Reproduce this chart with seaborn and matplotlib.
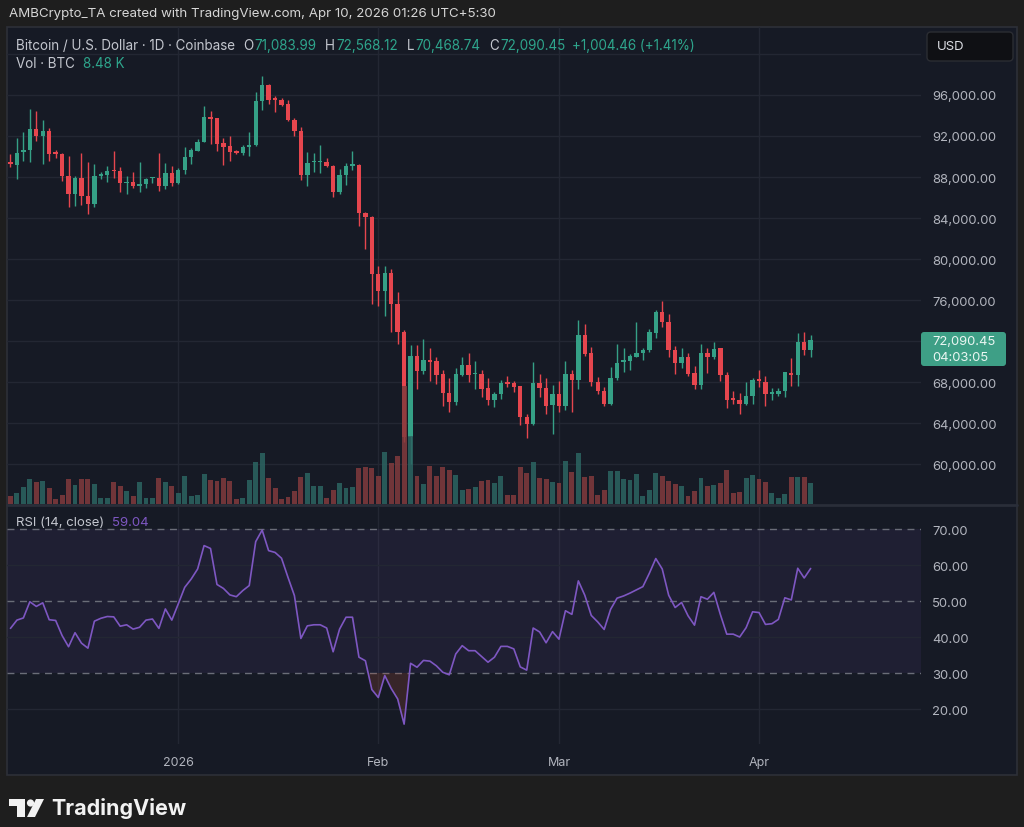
import matplotlib
matplotlib.use("Agg")
import matplotlib.pyplot as plt
import matplotlib.dates as mdates
from matplotlib.patches import Rectangle, FancyBboxPatch, Polygon, Circle
from matplotlib.ticker import FuncFormatter
import seaborn as sns
import pandas as pd
import numpy as np

# ---- data ----
start_date = "2025-12-06"

opens = [89430, 89170, 90410, 90660, 92680, 92030, 92520, 90410, 90240, 88130,
         86340, 87870, 86180, 85370, 88070, 88230, 88710, 88560, 87420, 87540,
         87150, 87290, 87870, 87870, 87090, 88390, 87420, 88710, 89920, 90570,
         91440, 93830, 93730, 91290, 91000, 90570, 90340, 90900, 91120, 95440,
         96980, 95680, 95540, 95120, 93590, 92520, 88200, 89490, 89490, 89430,
         89040, 86510, 88200, 89100, 89170, 84490, 84070, 78540, 76850, 78630,
         75610, 72910, 62610, 70510, 69100, 70180, 70080, 68780, 66930, 66080,
         68680, 69660, 68780, 68780, 67390, 66270, 66830, 67970, 67870, 67580,
         64560, 63900, 67900, 67440, 65760, 66830, 65630, 68780, 68230, 72590,
         70830, 68030, 67150, 65850, 68360, 69920, 70080, 70440, 70830, 71150,
         72780, 74800, 73880, 71150, 69850, 70410, 68880, 67710, 70830, 70410,
         71290, 68680, 66410, 66270, 65850, 66660, 68290, 68030, 66830, 66830,
         67150, 68880, 68680, 71870, 71083.99]
highs = [90240, 91780, 92360, 94630, 94470, 93590, 92750, 90660, 90340, 90020,
         88130, 90340, 89430, 89270, 88520, 89040, 90570, 88950, 88070, 88460,
         89490, 87930, 87970, 90340, 89370, 89040, 88850, 90900, 90800, 91710,
         94900, 94470, 93800, 91780, 91970, 90660, 91120, 92420, 96260, 97850,
         97070, 95870, 95680, 95540, 93730, 92850, 90470, 90340, 91120, 89830,
         89170, 88780, 89370, 90570, 89240, 84620, 84170, 79290, 79290, 79030,
         76810, 73100, 71610, 71610, 72200, 71320, 70410, 69200, 68360, 69340,
         70410, 70830, 70080, 69200, 68360, 67050, 68230, 68560, 68130, 67650,
         64880, 69980, 68780, 68360, 67660, 68130, 70080, 69200, 74080, 73660,
         71390, 68460, 67480, 69430, 71710, 71290, 70730, 73880, 71290, 73170,
         75050, 75930, 74640, 71480, 71290, 70830, 69530, 71710, 71290, 71930,
         71350, 69000, 67150, 66930, 67970, 68360, 69200, 68560, 67390, 67390,
         69000, 70310, 72780, 72850, 72568.12]
lows = [88950, 87800, 89590, 89490, 91540, 89270, 89590, 89830, 87640, 85100,
        85200, 85270, 84390, 85040, 87800, 87480, 87870, 86510, 86340, 86900,
        86570, 86960, 87420, 86660, 86830, 87150, 87320, 88290, 89270, 90540,
        91390, 91220, 90570, 89170, 89590, 90240, 90150, 90020, 91000, 94570,
        95120, 94310, 94960, 93500, 91970, 87740, 87150, 88460, 88390, 88950,
        86020, 86340, 87220, 88710, 83250, 80980, 75610, 75440, 74470, 72880,
        71710, 62120, 60000, 67320, 68780, 68130, 67810, 65630, 65070, 65760,
        68560, 67970, 67320, 66510, 65760, 65530, 66340, 67480, 67050, 63810,
        62510, 63810, 66510, 64880, 62930, 65040, 65300, 65050, 67320, 70510,
        67640, 66830, 65630, 65760, 68230, 69000, 69200, 70440, 70180, 70900,
        72260, 73340, 70410, 68780, 69340, 68560, 67320, 67320, 68880, 70240,
        68130, 65440, 65850, 64880, 65760, 65850, 67480, 65630, 66270, 66660,
        66510, 67590, 67640, 70630, 70468.74]
closes = [89240, 90340, 90660, 92680, 92030, 92520, 90240, 90240, 88130, 86340,
          87870, 86180, 85370, 88070, 88290, 88620, 88620, 87420, 87540, 87090,
          87290, 87800, 87930, 87090, 88390, 87420, 88710, 89920, 90660, 91440,
          93830, 93660, 91220, 90960, 90470, 90340, 90900, 91120, 95440, 96980,
          95540, 95540, 95050, 93590, 92520, 88200, 89370, 89590, 89590, 89040,
          86510, 88200, 89100, 89240, 84490, 84070, 78540, 76850, 78630, 75610,
          72910, 62610, 70510, 69100, 70180, 69980, 68680, 66930, 66080, 68780,
          69660, 68680, 68900, 67320, 66270, 66830, 67900, 67810, 67480, 64560,
          63900, 67900, 67390, 65690, 66830, 65630, 68780, 68230, 72590, 70730,
          67970, 67150, 65850, 68360, 69850, 70180, 70510, 70830, 71150, 72850,
          74800, 73880, 71150, 69850, 70410, 68780, 67710, 70830, 70410, 71220,
          68680, 66270, 66270, 65850, 66660, 68230, 68130, 66830, 67000, 67150,
          68950, 68680, 71870, 71085.99, 72090.45]
volume_k = [3.3, 4.3, 6.7, 10.0, 8.9, 9.2, 6.3, 2.0, 3.7, 9.9,
            7.7, 9.9, 9.9, 8.0, 2.3, 2.5, 8.9, 7.1, 5.1, 3.1,
            8.7, 2.3, 2.3, 10.3, 8.7, 7.3, 4.3, 11.1, 3.1, 3.6,
            12.0, 9.6, 9.2, 10.3, 9.2, 2.0, 2.5, 9.6, 16.9, 20.3,
            10.5, 6.4, 2.0, 2.9, 5.2, 10.9, 12.4, 7.2, 7.3, 2.3,
            5.6, 8.3, 6.5, 6.7, 14.5, 14.8, 14.5, 11.3, 20.7, 16.3,
            19.3, 47.0, 27.0, 11.1, 8.0, 15.3, 11.3, 14.7, 13.7, 11.7,
            5.7, 6.0, 6.7, 9.1, 9.6, 8.4, 11.1, 3.6, 3.6, 14.7,
            12.4, 16.9, 10.5, 10.0, 8.9, 8.5, 17.3, 12.7, 20.5, 10.7,
            11.1, 3.6, 5.6, 13.1, 13.1, 9.9, 9.7, 12.0, 3.2, 5.7,
            12.5, 11.2, 9.2, 7.9, 7.3, 3.1, 5.2, 10.3, 7.2, 7.6,
            8.3, 13.5, 4.3, 4.7, 10.5, 11.6, 9.9, 8.7, 4.4, 2.5,
            3.9, 10.9, 10.9, 10.9, 8.48]
rsi = [42.4, 44.7, 45.3, 49.8, 48.5, 49.5, 44.8, 44.6, 40.4, 37.3,
       41.2, 38.3, 36.9, 44.4, 45.2, 45.7, 45.6, 43.0, 43.4, 42.2,
       42.7, 44.7, 45.0, 42.4, 47.8, 44.7, 49.2, 53.8, 56.1, 58.9,
       65.4, 64.6, 54.6, 53.5, 51.7, 51.2, 52.9, 54.3, 66.5, 69.7,
       64.0, 63.5, 61.9, 56.6, 51.5, 39.6, 43.1, 43.4, 43.4, 42.5,
       35.9, 42.2, 45.5, 45.5, 34.4, 33.4, 25.4, 23.2, 29.3, 25.7,
       22.8, 15.8, 32.7, 31.6, 33.5, 33.3, 32.0, 30.2, 29.5, 35.3,
       37.6, 36.2, 36.2, 34.6, 33.0, 34.4, 37.4, 37.4, 36.7, 31.7,
       30.8, 42.5, 41.4, 38.4, 41.5, 39.4, 47.3, 46.3, 55.6, 51.6,
       46.0, 44.2, 42.1, 47.7, 50.8, 51.4, 52.2, 53.1, 54.0, 57.7,
       61.8, 58.9, 51.6, 48.2, 49.6, 45.9, 43.3, 51.2, 50.5, 52.4,
       46.3, 40.8, 40.8, 40.0, 42.6, 47.0, 46.8, 43.5, 43.7, 44.9,
       50.9, 50.3, 59.1, 56.4, 59.04]

price_ticks = [60000, 64000, 68000, 72000, 76000, 80000, 84000, 88000, 92000, 96000]
price_grid = price_ticks + [100000]
rsi_ticks = [20, 30, 40, 50, 60, 70]
month_starts = ["2026-01-01", "2026-02-01", "2026-03-01", "2026-04-01"]
month_labels = ["2026", "Feb", "Mar", "Apr"]

# ---- style ----
W, H = 1024, 828
BG_OUTER = "#1e1e1e"
BG_PANE = "#161a25"
GRID = "#232733"
GREY = "#b2b5be"
UP = "#35a086"
DOWN = "#e6464e"
VOL_UP = "#2c6562"
VOL_DOWN = "#823b3d"
GREEN_TXT = "#2ea58c"
PURPLE = "#7e57c2"

df = pd.DataFrame({
    "date": pd.date_range(start_date, periods=len(closes), freq="D"),
    "open": opens, "high": highs, "low": lows, "close": closes,
    "volume": volume_k, "rsi": rsi,
})

sns.set_theme(style="dark", rc={"axes.facecolor": BG_PANE, "figure.facecolor": BG_OUTER})
plt.rcParams["font.family"] = ["Inter", "DejaVu Sans"]

fig = plt.figure(figsize=(W / 100, H / 100), dpi=100, facecolor=BG_OUTER)


def frac(x0, y0, x1, y1):
    return [x0 / W, 1 - y1 / H, (x1 - x0) / W, (y1 - y0) / H]


# pane background
bg = fig.add_axes([0, 0, 1, 1], zorder=0)
bg.set_xlim(0, W)
bg.set_ylim(H, 0)
bg.axis("off")
bg.add_patch(Rectangle((7, 28), 1010, 748, fc=BG_PANE, ec="#2d3038", lw=1.2))
bg.plot([7, 1017], [506, 506], color="#2a2e39", lw=2)

ax = fig.add_axes(frac(7, 28, 921, 505), zorder=2)
ax_rsi = fig.add_axes(frac(7, 507, 921, 745), zorder=2, sharex=ax)
for a in (ax, ax_rsi):
    a.patch.set_visible(False)
    a.grid(False)
    for s in a.spines.values():
        s.set_visible(False)

# candles
is_up = df["close"] >= df["open"]
colors = np.where(is_up, UP, DOWN)
ax.vlines(df["date"], df["low"], df["high"], colors=colors, lw=1, zorder=3)
body = (df["close"] - df["open"]).abs().clip(lower=110)
ax.bar(df["date"], body, bottom=df[["open", "close"]].min(axis=1),
       width=0.68, color=colors, zorder=4, linewidth=0)

# volume overlay
ax_vol = ax.twinx()
ax_vol.bar(df["date"], df["volume"], width=0.76, color=np.where(is_up, VOL_UP, VOL_DOWN),
           alpha=0.85, linewidth=0, zorder=2)
ax_vol.set_ylim(0, 190)
ax_vol.axis("off")

x0 = mdates.date2num(df["date"].iloc[0])
ax.set_xlim(x0 - 0.54, x0 + 141.1)
ax.set_ylim(56098, 102634)
for p in price_grid:
    ax.axhline(p, color=GRID, lw=1, zorder=0)
for m in pd.to_datetime(month_starts):
    ax.axvline(m, color=GRID, lw=1, zorder=0)
    ax_rsi.axvline(m, color=GRID, lw=1, zorder=0)

ax.yaxis.tick_right()
ax.set_yticks(price_ticks)
ax.yaxis.set_major_formatter(FuncFormatter(lambda v, _: "" if v == 72000 else f"{v:,.2f}"))
ax.tick_params(axis="y", length=0, pad=8, labelcolor=GREY, labelsize=9.4)
ax.tick_params(axis="x", length=0, labelbottom=False)

# RSI pane
ax_rsi.axhspan(30, 70, color=PURPLE, alpha=0.09, lw=0, zorder=0)
for lvl in (20, 40, 60):
    ax_rsi.axhline(lvl, color=GRID, lw=1, zorder=1)
for lvl in (30, 50, 70):
    ax_rsi.axhline(lvl, color="#6a6d78", lw=1, ls=(0, (5, 4)), zorder=1)
ax_rsi.fill_between(df["date"], df["rsi"], 30, where=df["rsi"] < 30, interpolate=True,
                    color="#b0503a", alpha=0.22, lw=0, zorder=2)
sns.lineplot(x=df["date"], y=df["rsi"], ax=ax_rsi, color=PURPLE, lw=1.2, zorder=3)
ax_rsi.set_ylim(10.28, 76.4)
ax_rsi.set_xlabel("")
ax_rsi.set_ylabel("")
ax_rsi.yaxis.tick_right()
ax_rsi.set_yticks(rsi_ticks)
ax_rsi.set_yticklabels([f"{t:.2f}" for t in rsi_ticks])
ax_rsi.tick_params(axis="y", length=0, pad=8, labelcolor=GREY, labelsize=9.4)
ax_rsi.set_xticks(pd.to_datetime(month_starts))
ax_rsi.set_xticklabels(month_labels)
ax_rsi.tick_params(axis="x", length=0, pad=9, labelcolor=GREY, labelsize=9)
ax_rsi.set_xlim(x0 - 0.54, x0 + 141.1)

# ---- overlay texts and boxes ----
ov = fig.add_axes([0, 0, 1, 1], zorder=10)
ov.set_xlim(0, W)
ov.set_ylim(H, 0)
ov.axis("off")
renderer = fig.canvas.get_renderer()


def chain(x, y, parts, size):
    for txt, col, gap in parts:
        t = ov.text(x, y, txt, color=col, fontsize=size, va="center", ha="left")
        x += t.get_window_extent(renderer).width + gap
    return x


ov.text(9, 14, "AMBCrypto_TA created with TradingView.com, Apr 10, 2026 01:26 UTC+5:30",
        color="#d6d6d6", fontsize=9.6, va="center", ha="left")

change = closes[-1] - closes[-2]
pct = change / closes[-2] * 100
chain(16, 46, [
    ("Bitcoin / U.S. Dollar · 1D · Coinbase", "#c3c6ce", 8),
    ("O", "#c3c6ce", 1), (f"{opens[-1]:,.2f}", GREEN_TXT, 9),
    ("H", "#c3c6ce", 1), (f"{highs[-1]:,.2f}", GREEN_TXT, 9),
    ("L", "#c3c6ce", 1), (f"{lows[-1]:,.2f}", GREEN_TXT, 9),
    ("C", "#c3c6ce", 1), (f"{closes[-1]:,.2f}", GREEN_TXT, 7),
    (f"{change:+,.2f} ({pct:+.2f}%)", GREEN_TXT, 0),
], 9.7)
chain(16, 64, [("Vol · BTC", "#c3c6ce", 8), (f"{volume_k[-1]:.2f} K", GREEN_TXT, 0)], 9.7)
chain(16, 523, [("RSI (14, close)", "#c3c6ce", 8), (f"{rsi[-1]:.2f}", PURPLE, 0)], 9.5)

# USD box
ov.add_patch(FancyBboxPatch((927, 33), 86, 29, boxstyle="round,pad=0,rounding_size=4",
                            fc="#0f1014", ec="#2b2d33", lw=1))
ov.text(937, 47.5, "USD", color="#dcdee4", fontsize=9.5, va="center", ha="left")

# last price label
ov.add_patch(FancyBboxPatch((921, 333), 85, 34, boxstyle="round,pad=0,rounding_size=3",
                            fc="#3e9f86", ec="none"))
ov.text(932, 342, f"{closes[-1]:,.2f}", color="#eaf6f2", fontsize=9.4, va="center", ha="left")
ov.text(932, 358, "04:03:05", color="#eaf6f2", fontsize=9.4, va="center", ha="left")

# TradingView footer logo
ov.add_patch(Rectangle((9, 800), 16, 7, fc="#f2f2f2", ec="none"))
ov.add_patch(Rectangle((17, 800), 8, 18, fc="#f2f2f2", ec="none"))
ov.add_patch(Circle((30.5, 804), 3.6, fc="#f2f2f2", ec="none"))
ov.add_patch(Polygon([(36, 800), (44, 800), (35, 818), (27, 818)], closed=True,
                     fc="#f2f2f2", ec="none"))
ov.text(51, 808.5, "TradingView", color="#f2f2f2", fontsize=15.5, fontweight="bold",
        va="center", ha="left")

fig.savefig("out.png", dpi=100, facecolor=BG_OUTER)
